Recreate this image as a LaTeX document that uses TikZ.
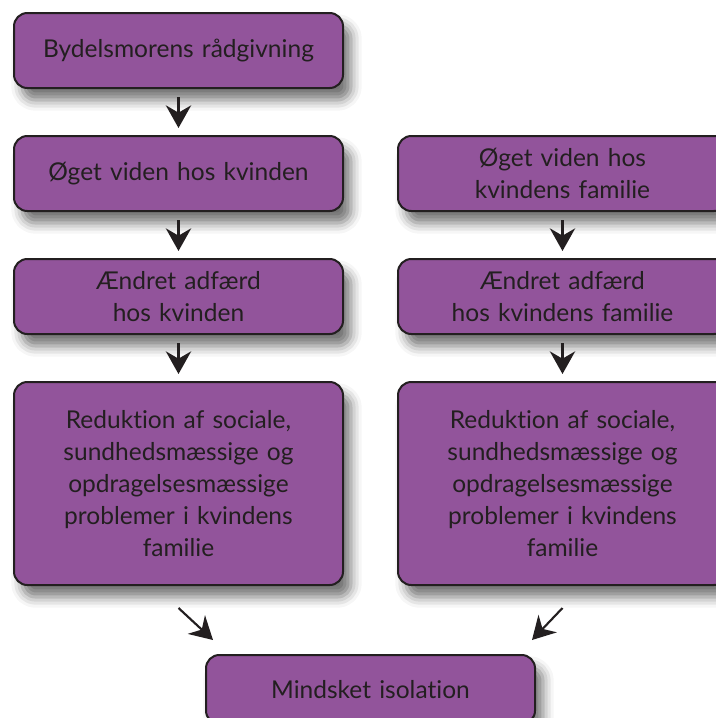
\documentclass[tikz,border=0pt]{standalone}
\usepackage{fontspec}
\setmainfont{Lato}[Ligatures=NoCommon]
\usepackage{xcolor}
\usepackage{tikz}
\usetikzlibrary{positioning,calc,arrows.meta,shadows.blur}
\definecolor{bydel purple}{RGB}{146,84,155}
\definecolor{bydel ink}{RGB}{35,31,32}

\begin{document}
\begin{tikzpicture}[flow box/.style={draw=bydel ink, line width=1.5pt, fill=bydel purple, rounded corners=10pt, text=bydel ink, align=center, text width=238.75pt, inner xsep=4pt, minimum height=56.25pt, font=\fontsize{18.4}{24}\selectfont, blur shadow={shadow xshift=6pt, shadow yshift=-9pt, shadow blur radius=8pt, shadow opacity=55}}, flow arrow/.style={-{Stealth[length=17pt,width=19pt,inset=5.5pt]}, line width=1.6pt, draw=bydel ink}, down arrow/.style={flow arrow, shorten <=6pt, shorten >=5.25pt}, node distance=34.5pt and 39.75pt]
    \useasboundingbox (0,0) rectangle (537pt,-538.5pt);
    \clip (0,0) rectangle (537pt,-538.5pt);

    \node[flow box, anchor=north west] (raad) at (9.75pt,-9pt) {Bydelsmorens rådgivning};
    \node[flow box, below=of raad] (viden) {Øget viden hos kvinden};
    \node[flow box, below=of viden] (adfaerd) {Ændret adfærd \\ hos kvinden};
    \node[flow box, below=of adfaerd, minimum height=152.25pt] (reduk) {Reduktion af sociale, \\ sundhedsmæssige og \\ opdragelsesmæssige \\ problemer i kvindens \\ familie};
    \node[flow box, right=of viden] (fviden) {Øget viden hos \\ kvindens familie};
    \node[flow box, below=of fviden] (fadfaerd) {Ændret adfærd \\ hos kvindens familie};
    \node[flow box, below=of fadfaerd, minimum height=152.25pt] (freduk) {Reduktion af sociale, \\ sundhedsmæssige og \\ opdragelsesmæssige \\ problemer i kvindens \\ familie};
    \coordinate (mid) at ($(reduk.south)!0.5!(freduk.south)$);
    \node[flow box, below=51pt of mid, minimum height=51.75pt] (iso) {Mindsket isolation};

    \draw[down arrow] (raad) -- (viden);
    \draw[down arrow] (viden) -- (adfaerd);
    \draw[down arrow] (adfaerd) -- (reduk);
    \draw[down arrow] (fviden) -- (fadfaerd);
    \draw[down arrow] (fadfaerd) -- (freduk);
    \draw[flow arrow] ([yshift=-16.5pt]reduk.south) -- ([xshift=6pt,yshift=10.5pt]iso.north west);
    \draw[flow arrow] ([yshift=-16.5pt]freduk.south) -- ([xshift=-3pt,yshift=10.5pt]iso.north east);

\end{tikzpicture}
\end{document}
